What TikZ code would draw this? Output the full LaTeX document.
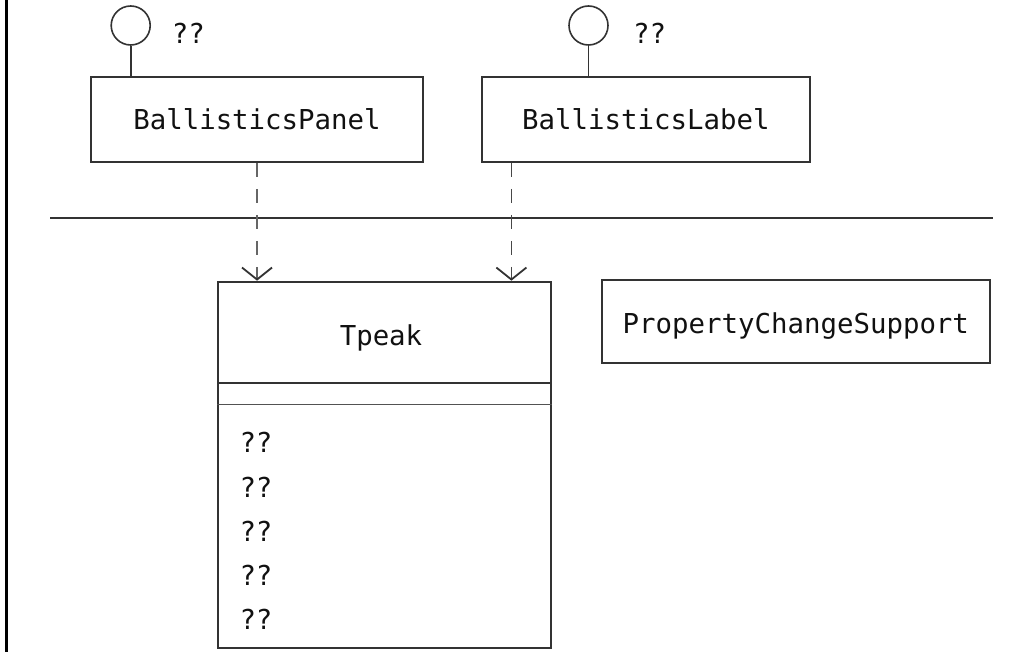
\documentclass[tikz,border=0pt]{standalone}
\usepackage{fontspec}
\setmonofont{DejaVu Sans Mono}
\usetikzlibrary{arrows.meta}
\definecolor{ln}{HTML}{333333}
\definecolor{dl}{HTML}{666666}
\definecolor{tx}{HTML}{111111}
\tikzset{
  umlbox/.style={draw=ln, line width=2pt, rectangle, inner sep=0pt, text=tx,
     font=\ttfamily\fontsize{27.4}{30}\selectfont, text depth=0pt},
  lolli/.style={draw=ln, line width=1.6pt, circle, inner sep=0pt, minimum size=39pt},
  stem/.style={draw=ln, line width=1.8pt},
  txt/.style={inner sep=0pt, text=tx, font=\ttfamily\fontsize{27.4}{30}\selectfont},
  dep/.style={draw=dl, line width=1.6pt, dash pattern=on 14pt off 12pt,
     -{Straight Barb[length=12pt,width=30pt,line width=1.8pt,color=ln]}},
  sep/.style={draw=ln, line width=2pt}
}
\begin{document}
\begin{tikzpicture}[x=1pt,y=-1pt]
\useasboundingbox (0,0) rectangle (1028,652);
% left border
\draw[black, line width=3pt] (6.5,0) -- (6.5,652);
% horizontal separator
\coordinate (hl) at (50,218.3);
\coordinate (hr) at (992.7,218.3);
\draw[sep] (hl) -- (hr);
% top classes
\node[umlbox, minimum width=332pt, minimum height=85pt, text height=21pt] (panel) at (257,119.5) {BallisticsPanel};
\node[umlbox, minimum width=328pt, minimum height=85pt, text height=21pt] (label) at (645.8,119.5) {BallisticsLabel};
% lollipops
\node[lolli] (ic1) at (130.7,25.5) {};
\node[lolli] (ic2) at (588.5,25.5) {};
\draw[stem] (ic1.south) -- (ic1.south |- panel.north);
\draw[stem] (ic2.south) -- (ic2.south |- label.north);
\node[txt, anchor=west] (q1) at (171.7,33) {??};
\node[txt, anchor=west] (q2) at (633,33) {??};
% Tpeak class
\node[umlbox, minimum width=332.4pt, minimum height=366.6pt] (tpeak) at (384.5,465) {};
\node[txt, anchor=base] (tname) at (381,345) {Tpeak};
\draw[sep] (tpeak.west |- 0,383.3) -- (tpeak.east |- 0,383.3);
\draw[sep, line width=1.6pt, draw=ln!85] (tpeak.west |- 0,404.3) -- (tpeak.east |- 0,404.3);
\foreach \i/\y in {1/442.3,2/487.3,3/531,4/575.5,5/619}{
  \node[txt, anchor=west] (op\i) at (239.3,\y) {??};
}
% PropertyChangeSupport
\node[umlbox, minimum width=388.3pt, minimum height=83pt, text height=24pt] (pcs) at (795.8,321.5) {PropertyChangeSupport};
% dependencies
\draw[dep] (panel.south) -- (panel.south |- tpeak.north);
\draw[dep, draw=ln!90] ([xshift=30.6pt]label.south west) -- ([xshift=30.6pt]label.south west |- tpeak.north);
\end{tikzpicture}
\end{document}
